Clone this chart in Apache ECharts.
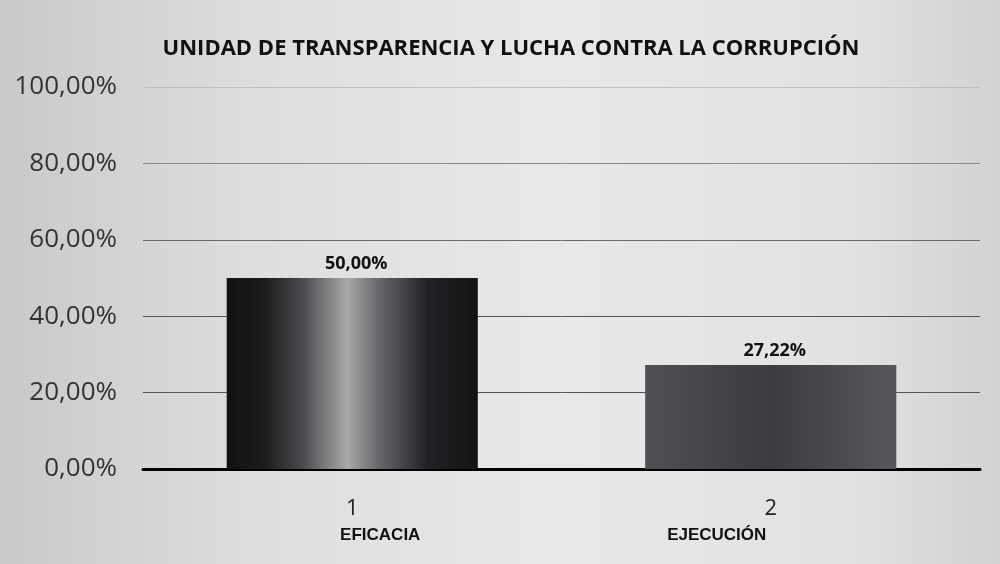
<!DOCTYPE html>
<html>
<head>
<meta charset="utf-8">
<script src="https://cdn.jsdelivr.net/npm/echarts@6/dist/echarts.min.js"></script>
<style>
  html, body { margin: 0; padding: 0; }
  #chart { width: 1000px; height: 564px; }
</style>
</head>
<body>
<div id="chart"></div>
<script>
const categories = ['1', '2']
const indicators = ['EFICACIA', 'EJECUCIÓN']
const values = [50.00, 27.22]
const yTicks = [0, 20, 40, 60, 80, 100]

const fmt = (v) => v.toFixed(2).replace('.', ',') + '%'

const chart = echarts.init(document.getElementById('chart'))

const option = {
  backgroundColor: new echarts.graphic.LinearGradient(0, 0, 1, 0, [
    { offset: 0, color: '#c9c9c9' },
    { offset: 0.25, color: '#dedede' },
    { offset: 0.55, color: '#e8e8e8' },
    { offset: 0.85, color: '#e2e2e2' },
    { offset: 1, color: '#d2d2d2' }
  ]),
  title: {
    text: 'UNIDAD DE TRANSPARENCIA Y LUCHA CONTRA LA CORRUPCIÓN',
    left: 506,
    textAlign: 'center',
    top: 33,
    textStyle: {
      fontFamily: 'Open Sans',
      fontWeight: 'bold',
      fontSize: 22,
      color: '#111'
    }
  },
  grid: { left: 143, right: 20, top: 87, bottom: 95 },
  xAxis: {
    type: 'category',
    data: categories,
    axisLine: { lineStyle: { color: '#000', width: 3 } },
    axisTick: { show: false },
    axisLabel: {
      margin: 27,
      lineHeight: 26,
      formatter: (v, i) => v + '\n' + (i === 0 ? '{a|' + indicators[0] + '}' : '{b|' + indicators[1] + '}'),
      fontFamily: 'Open Sans',
      fontSize: 22,
      color: '#222',
      rich: {
        a: {
          fontFamily: 'Liberation Sans',
          fontWeight: 'bold',
          fontSize: 17,
          lineHeight: 26,
          color: '#111',
          padding: [0, 0, 0, 56]
        },
        b: {
          fontFamily: 'Liberation Sans',
          fontWeight: 'bold',
          fontSize: 17,
          lineHeight: 26,
          color: '#111',
          padding: [0, 108, 0, 0]
        }
      }
    }
  },
  yAxis: {
    type: 'value',
    min: yTicks[0],
    max: yTicks[yTicks.length - 1],
    interval: 20,
    axisLine: { show: false },
    axisTick: { show: false },
    axisLabel: {
      margin: 26,
      fontFamily: 'Open Sans',
      fontSize: 26,
      color: '#333',
      formatter: (v) => fmt(v)
    },
    splitLine: {
      lineStyle: {
        color: ['#333', '#555', '#555', '#6a6a6a', '#8a8a8a', '#c0c0c0'],
        width: 1
      }
    }
  },
  series: [
    {
      type: 'bar',
      barWidth: '60%',
      data: values.map((v, i) => ({
        value: v,
        itemStyle: {
          color: i === 0
            ? new echarts.graphic.LinearGradient(0, 0, 1, 0, [
                { offset: 0, color: '#111' },
                { offset: 0.15, color: '#1c1c1e' },
                { offset: 0.3, color: '#4a4a4e' },
                { offset: 0.48, color: '#a9a9a9' },
                { offset: 0.6, color: '#6a6a6e' },
                { offset: 0.8, color: '#222226' },
                { offset: 1, color: '#131313' }
              ])
            : new echarts.graphic.LinearGradient(0, 0, 1, 0, [
                { offset: 0, color: '#505054' },
                { offset: 0.5, color: '#3c3c40' },
                { offset: 1, color: '#58585c' }
              ])
        }
      })),
      label: {
        show: true,
        position: 'top',
        distance: 5,
        offset: [4, 0],
        fontFamily: 'Open Sans',
        fontWeight: 'bold',
        fontSize: 18,
        color: '#111',
        formatter: (p) => fmt(p.value)
      }
    }
  ]
}

chart.setOption(option)
</script>
</body>
</html>
